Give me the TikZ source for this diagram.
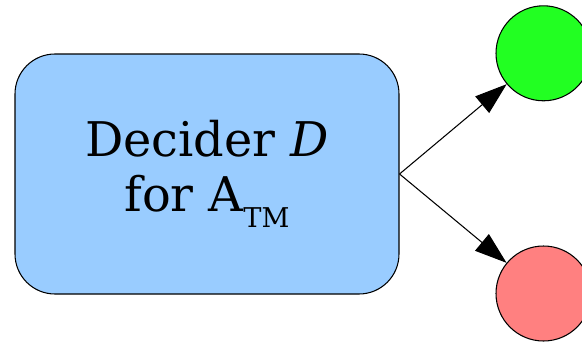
\documentclass[tikz,border=0pt]{standalone}
\usepackage{fontspec}
\setmainfont{DejaVu Serif}
\usepackage{tikz}
\usetikzlibrary{arrows.meta}

\definecolor{deciderblue}{HTML}{99CCFF}
\definecolor{acceptgreen}{HTML}{22FF22}
\definecolor{rejectred}{HTML}{FF8080}

\tikzset{
  machine/.style={draw=black, line width=0.6pt, fill=deciderblue,
    rounded corners=0.8cm, minimum width=7.68cm, minimum height=4.8cm,
    inner sep=0pt, align=center, font=\fontsize{27.2}{31.3}\selectfont},
  outcome/.style={draw=black, line width=0.6pt, circle, minimum size=1.9cm,
    inner sep=0pt},
  result/.style={line width=0.6pt, -{Triangle[length=0.64cm,width=0.43cm]}}
}

\begin{document}
\begin{tikzpicture}
            \useasboundingbox (0,0) rectangle (11.64,-6.9);
            \node[machine] (decider) at (4.14,-3.48)
            {Decider \textit{D}\\ for A\raisebox{-9pt}{\fontsize{15.5}{15.5}\selectfont TM}};
            \node[outcome, fill=acceptgreen] (accept) at (10.87,-1.066) {};
            \node[outcome, fill=rejectred] (reject) at (10.87,-5.87) {};
            \draw[result] (decider.east) -- (accept);
            \draw[result] (decider.east) -- (reject);
        \end{tikzpicture}
\end{document}
